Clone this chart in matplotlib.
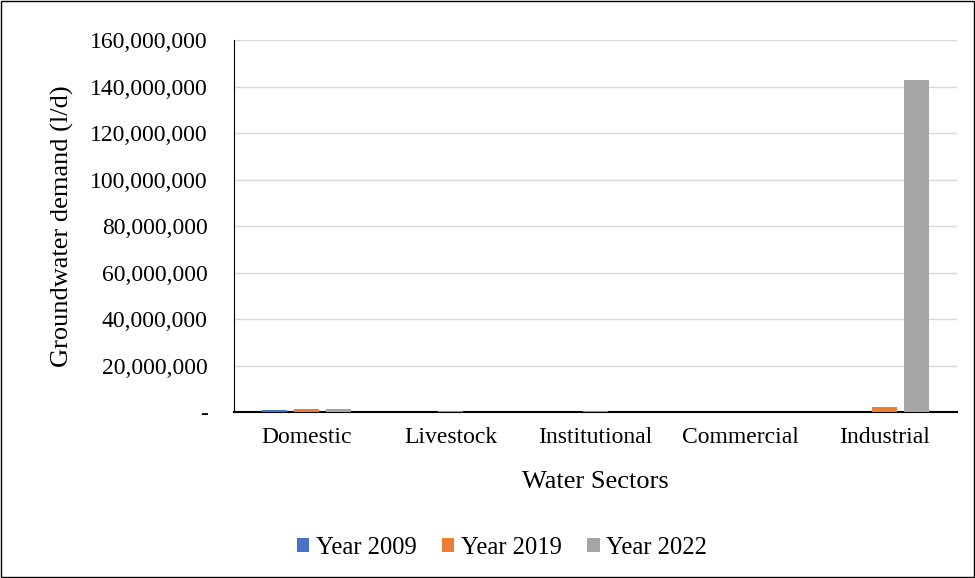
import matplotlib
matplotlib.use("Agg")
import matplotlib.pyplot as plt
import numpy as np
from matplotlib.ticker import FuncFormatter

categories = ["Domestic", "Livestock", "Institutional", "Commercial", "Industrial"]
series_names = ["Year 2009", "Year 2019", "Year 2022"]
year_2009 = [750000, 200000, 200000, 50000, 50000]
year_2019 = [1100000, 250000, 300000, 50000, 2300000]
year_2022 = [1150000, 200000, 200000, 50000, 143000000]
colors = ["#4472C4", "#ED7D31", "#A5A5A5"]

plt.rcParams['font.family'] = ['Liberation Serif', 'DejaVu Serif']

fig = plt.figure(figsize=(9.75, 5.78), dpi=100)
L, R, T, B = 234, 957, 40, 412
ax = fig.add_axes([L/975, 1-B/578, (R-L)/975, (B-T)/578])

x = np.arange(len(categories))
w = 0.173
off = 0.2215
for i, (vals, name) in enumerate(zip([year_2009, year_2019, year_2022], series_names)):
    ax.bar(x + (i-1)*off, vals, width=w, color=colors[i], label=name, zorder=3)

ax.set_xlim(-0.5, len(categories)-0.5)
ax.set_ylim(0, 160000000)
ax.set_yticks(np.arange(0, 160000001, 20000000))
ax.yaxis.set_major_formatter(FuncFormatter(lambda v, p: "-" if v == 0 else f"{int(v):,}"))
ax.grid(axis='y', color='#D9D9D9', linewidth=1, zorder=0)
ax.set_xticks(x)
ax.set_xticklabels(categories)
ax.tick_params(axis='x', length=0, labelsize=17, pad=11)
ax.tick_params(axis='y', length=0, labelsize=17, pad=19)
for s in ['top', 'right']:
    ax.spines[s].set_visible(False)
ax.spines['left'].set_color('black')
ax.spines['bottom'].set_color('black')
ax.spines['bottom'].set_linewidth(1.5)

fig.text((L+R)/2/975, 1-482/578, "Water Sectors", fontsize=19, ha='center', va='center')
fig.text(62/975, 1-(T+B)/2/578, "Groundwater demand (l/d)", fontsize=19,
         ha='center', va='center', rotation=90)

fig.legend(loc='center', bbox_to_anchor=(502/975, 1-548/578), ncol=3, frameon=False,
           fontsize=17.7, handlelength=0.49, handleheight=0.49, handletextpad=0.25,
           columnspacing=1.06)

border = plt.Rectangle((0.001, 0.001), 0.998, 0.998, transform=fig.transFigure,
                       fill=False, edgecolor='black', linewidth=1)
fig.patches.append(border)

fig.savefig("out.png", dpi=100)
